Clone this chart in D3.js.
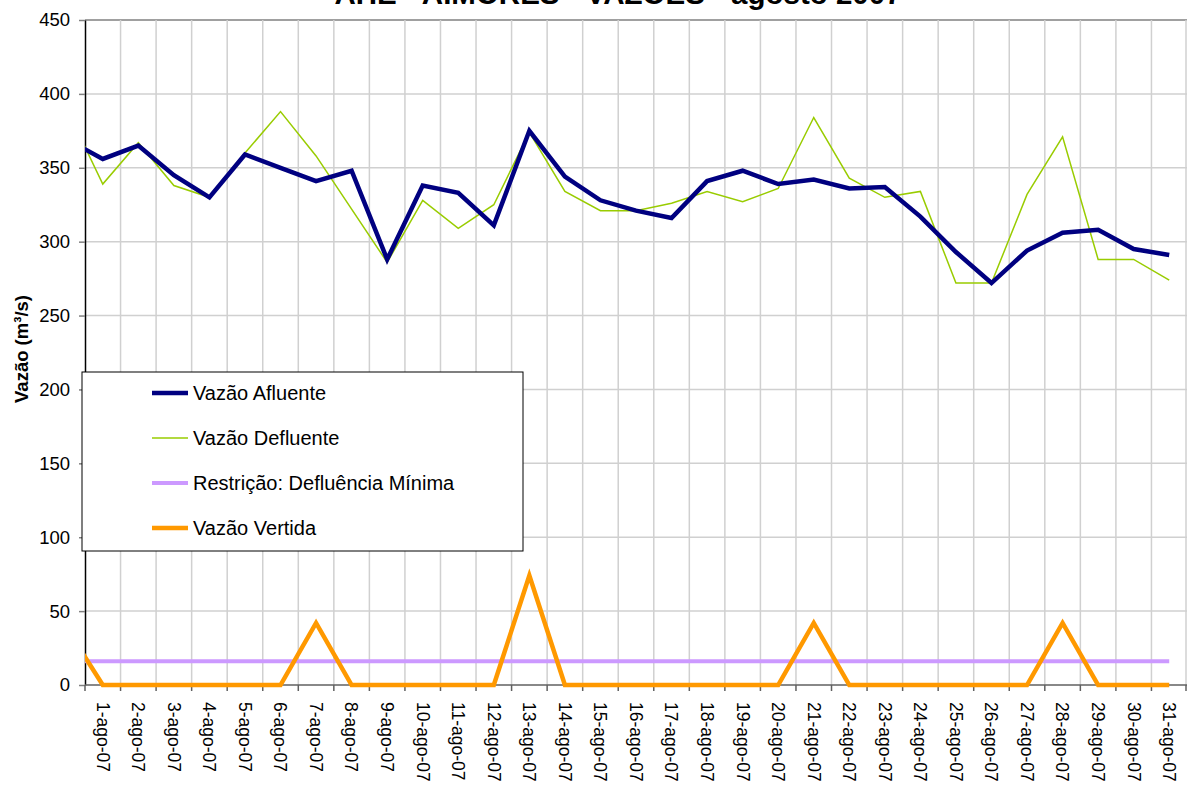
<!DOCTYPE html>
<html>
<head>
<meta charset="utf-8">
<script src="https://cdn.jsdelivr.net/npm/d3@7"></script>
<style>
  body { margin: 0; background: #fff; }
  text { font-family: "Liberation Sans", Arial, sans-serif; }
</style>
</head>
<body>
<div id="chart"></div>
<script>
var days = ["1-ago-07", "2-ago-07", "3-ago-07", "4-ago-07", "5-ago-07", "6-ago-07", "7-ago-07", "8-ago-07",
  "9-ago-07", "10-ago-07", "11-ago-07", "12-ago-07", "13-ago-07", "14-ago-07", "15-ago-07", "16-ago-07",
  "17-ago-07", "18-ago-07", "19-ago-07", "20-ago-07", "21-ago-07", "22-ago-07", "23-ago-07", "24-ago-07",
  "25-ago-07", "26-ago-07", "27-ago-07", "28-ago-07", "29-ago-07", "30-ago-07", "31-ago-07"];

var afluente = [356, 365, 345, 330, 359, 350, 341, 348, 288, 338, 333, 311, 375, 344, 328, 321,
  316, 341, 348, 339, 342, 336, 337, 317, 293, 272, 294, 306, 308, 295, 291];
var defluente = [339, 367, 338, 330, 360, 388, 358, 322, 286, 328, 309, 325, 374, 334, 321, 321,
  326, 334, 327, 336, 384, 343, 330, 334, 272, 272, 332, 371, 288, 288, 274];
var restricao = [16, 16, 16, 16, 16, 16, 16, 16, 16, 16, 16, 16, 16, 16, 16, 16,
  16, 16, 16, 16, 16, 16, 16, 16, 16, 16, 16, 16, 16, 16, 16];
var vertida = [0, 0, 0, 0, 0, 0, 42, 0, 0, 0, 0, 0, 74, 0, 0, 0,
  0, 0, 0, 0, 42, 0, 0, 0, 0, 0, 0, 42, 0, 0, 0];

// 31-jul-07, outside the plot, only the start of each line shows
var anterior = {afluente: 369, defluente: 389, restricao: 16, vertida: 38};

var yTicks = [0, 50, 100, 150, 200, 250, 300, 350, 400, 450];

var titulo = "AHE - AIMORÉS - VAZÕES - agosto 2007";
var tituloEixoY = "Vazão (m³/s)";

var series = [
  {key: "afluente", name: "Vazão Afluente", values: afluente, color: "#000080", width: 4.5},
  {key: "defluente", name: "Vazão Defluente", values: defluente, color: "#99cc00", width: 1.5},
  {key: "restricao", name: "Restrição: Defluência Mínima", values: restricao, color: "#cc99ff", width: 4},
  {key: "vertida", name: "Vazão Vertida", values: vertida, color: "#ff9900", width: 4.5}
];

var svgWidth = 1187,
  svgHeight = 785,
  plotLeft = 85,
  plotRight = 1187,
  plotTop = 20,
  plotBottom = 685;

var svg = d3.select("#chart")
  .append("svg")
  .attr("width", svgWidth)
  .attr("height", svgHeight);

var x = d3.scaleBand()
  .domain(days)
  .range([plotLeft, plotRight])
  .padding(0);

var bw = x.bandwidth();

var y = d3.scaleLinear()
  .domain([0, 450])
  .range([plotBottom, plotTop]);

// horizontal gridlines
svg.append("g")
  .selectAll("line")
  .data(yTicks.slice(1))
  .enter()
  .append("line")
  .attr("x1", plotLeft)
  .attr("x2", plotRight)
  .attr("y1", function(d) { return y(d); })
  .attr("y2", function(d) { return y(d); })
  .attr("stroke", function(d) { return d === 450 ? "#a0a0a0" : "#d0d0d0"; })
  .attr("stroke-width", function(d) { return d === 450 ? 2 : 1.5; });

// vertical gridlines on the category boundaries
svg.append("g")
  .selectAll("line")
  .data(days.slice(1).concat([null]))
  .enter()
  .append("line")
  .attr("x1", function(d) { return d === null ? plotRight - 1 : x(d); })
  .attr("x2", function(d) { return d === null ? plotRight - 1 : x(d); })
  .attr("y1", plotTop)
  .attr("y2", plotBottom)
  .attr("stroke", "#d0d0d0")
  .attr("stroke-width", 1.5);

// y axis
var yAxis = svg.append("g")
  .attr("transform", "translate(" + plotLeft + ",0)")
  .call(d3.axisLeft(y).tickValues(yTicks).tickSize(6).tickSizeOuter(0).tickPadding(9));
yAxis.select(".domain").attr("stroke", "#000").attr("stroke-width", 1.5);
yAxis.selectAll(".tick line").attr("stroke", "#808080").attr("stroke-width", 1.5);
yAxis.selectAll(".tick text")
  .attr("font-size", "18.5px")
  .attr("font-family", "Liberation Sans, Arial, sans-serif")
  .attr("fill", "#000");

// x axis line + ticks on boundaries
svg.append("line")
  .attr("x1", plotLeft)
  .attr("x2", plotRight)
  .attr("y1", plotBottom)
  .attr("y2", plotBottom)
  .attr("stroke", "#606060")
  .attr("stroke-width", 1.5);

svg.append("g")
  .selectAll("line")
  .data(days.concat([null]))
  .enter()
  .append("line")
  .attr("x1", function(d) { return d === null ? plotRight - 1 : x(d); })
  .attr("x2", function(d) { return d === null ? plotRight - 1 : x(d); })
  .attr("y1", plotBottom)
  .attr("y2", plotBottom + 6)
  .attr("stroke", "#606060")
  .attr("stroke-width", 1.5);

// category labels, rotated
svg.append("g")
  .selectAll("text")
  .data(days)
  .enter()
  .append("text")
  .text(function(d) { return d; })
  .attr("transform", function(d) {
    return "translate(" + (x(d) + bw / 2) + "," + (plotBottom + 17) + ") rotate(90)";
  })
  .attr("dy", "0.35em")
  .attr("font-size", "17.5px")
  .attr("fill", "#000")
  .style("text-anchor", "start");

// lines, clipped to the plot area
svg.append("clipPath")
  .attr("id", "plotClip")
  .append("rect")
  .attr("x", plotLeft)
  .attr("y", plotTop - 5)
  .attr("width", plotRight - plotLeft)
  .attr("height", plotBottom - plotTop + 10);

var line = d3.line()
  .x(function(d) { return x(days[0]) + bw / 2 + (d.i) * bw; })
  .y(function(d) { return y(d.v); });

var drawOrder = ["restricao", "vertida", "defluente", "afluente"];
svg.append("g")
  .attr("clip-path", "url(#plotClip)")
  .selectAll("path")
  .data(drawOrder.map(function(k) { return series.find(function(s) { return s.key === k; }); }))
  .enter()
  .append("path")
  .attr("d", function(s) {
    var pts = [{i: -1, v: anterior[s.key]}].concat(s.values.map(function(v, i) {
      return {i: i, v: v};
    }));
    return line(pts);
  })
  .attr("fill", "none")
  .attr("stroke", function(s) { return s.color; })
  .attr("stroke-width", function(s) { return s.width; })
  .attr("stroke-linejoin", "miter");

// legend
var legendX = 82, legendY = 372, legendW = 441, legendH = 179;
svg.append("rect")
  .attr("x", legendX)
  .attr("y", legendY)
  .attr("width", legendW)
  .attr("height", legendH)
  .attr("fill", "#fff")
  .attr("stroke", "#000")
  .attr("stroke-width", 1);

var legendRow = svg.append("g")
  .selectAll("g")
  .data(series)
  .enter()
  .append("g")
  .attr("transform", function(d, i) {
    return "translate(0," + (legendY + 21 + i * 45) + ")";
  });

legendRow.append("line")
  .attr("x1", 152)
  .attr("x2", 188)
  .attr("y1", 0)
  .attr("y2", 0)
  .attr("stroke", function(d) { return d.color; })
  .attr("stroke-width", function(d) { return d.width; });

legendRow.append("text")
  .text(function(d) { return d.name; })
  .attr("x", 193)
  .attr("y", 0)
  .attr("dy", "0.35em")
  .attr("font-size", "20px")
  .attr("fill", "#000");

// y axis title
svg.append("text")
  .text(tituloEixoY)
  .attr("transform", "translate(28,349) rotate(-90)")
  .attr("font-size", "18.5px")
  .attr("font-weight", "bold")
  .attr("fill", "#000")
  .style("text-anchor", "middle");

// title, mostly cut off at the top
svg.append("text")
  .text(titulo)
  .attr("x", 618)
  .attr("y", 4)
  .attr("font-size", "29.5px")
  .attr("font-weight", "bold")
  .attr("fill", "#000")
  .style("text-anchor", "middle");
</script>
</body>
</html>
